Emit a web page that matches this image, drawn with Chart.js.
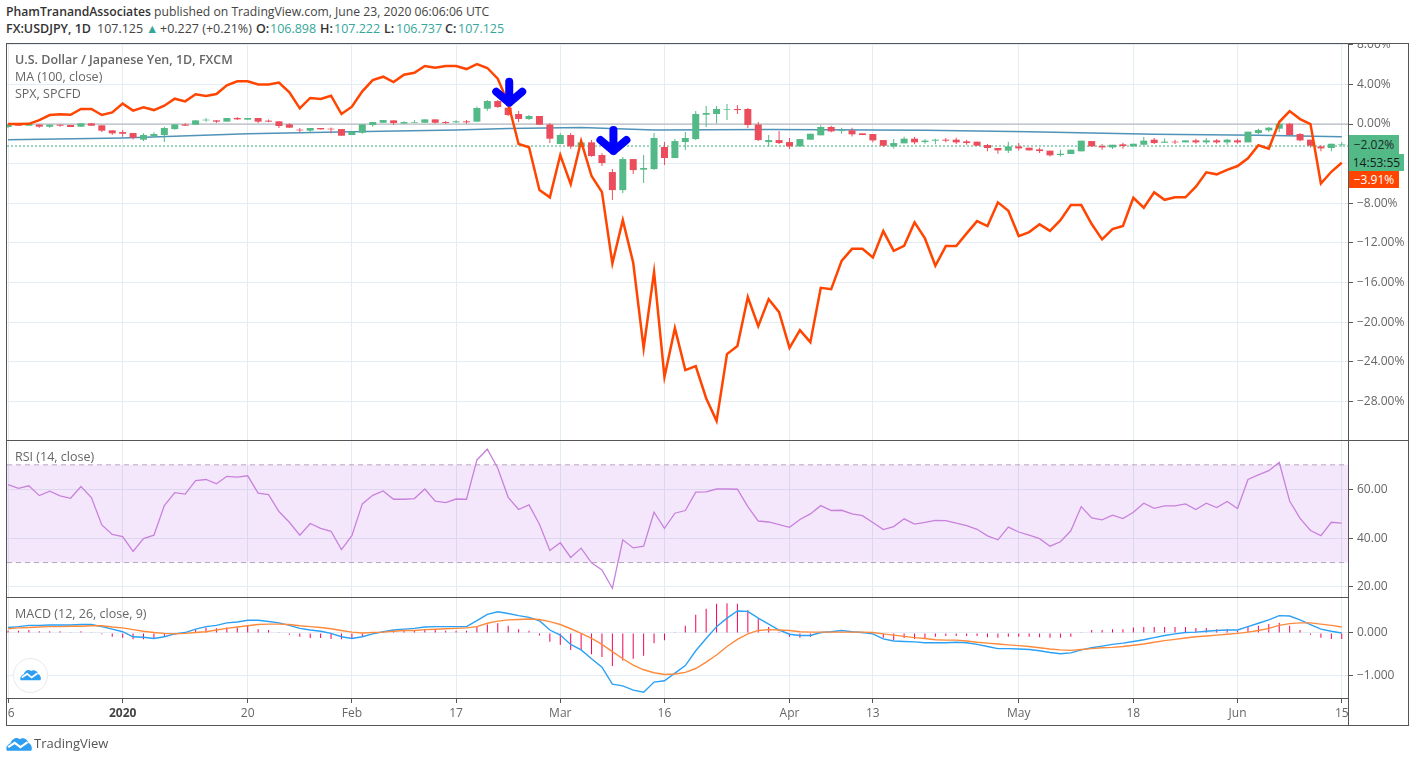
<!DOCTYPE html>
<html>
<head>
<meta charset="utf-8">
<title>USDJPY</title>
<script src="https://cdn.jsdelivr.net/npm/chart.js@4/dist/chart.umd.min.js"></script>
<style>
    html, body { margin: 0; padding: 0; background: #fff; }
    body { width: 1415px; height: 762px; position: relative; overflow: hidden; font-family: "Open Sans", sans-serif; color: #4a4a4a; }
    canvas { position: absolute; left: 7px; }
    .abs { position: absolute; white-space: nowrap; }
    .line { position: absolute; background: #555; }
    .legend { position: absolute; left: 15px; font-size: 12.5px; color: #666; white-space: nowrap; line-height: 16px; }
    .head { position: absolute; left: 6px; font-size: 12.5px; white-space: nowrap; line-height: 16px; color: #444; }
    .head b { color: #333; font-weight: 600; }
    .head span { position: absolute; top: 0; }
    .teal { color: #35a79a; }
    .tag { position: absolute; font-size: 12px; text-align: center; line-height: 17px; }
</style>
</head>
<body>
<div class="head" style="top:4px;font-size:12.2px"><b>PhamTranandAssociates</b> published on TradingView.com, June 23, 2020 06:06:06 UTC</div>
<div class="head" style="top:21px"><b>FX:USDJPY, 1D</b>
    <span style="left:91px">107.125</span>
    <span class="teal" style="left:140px">▲</span>
    <span style="left:154px">+0.227 (+0.21%)</span>
    <span style="left:250px"><b>O:</b></span><span class="teal" style="left:264px">106.898</span>
    <span style="left:314px"><b>H:</b></span><span class="teal" style="left:328px">107.222</span>
    <span style="left:378px"><b>L:</b></span><span class="teal" style="left:390px">106.737</span>
    <span style="left:439px"><b>C:</b></span><span class="teal" style="left:452px">107.125</span>
</div>

<canvas id="priceChart" width="1401" height="396" style="top:44px"></canvas>
<canvas id="rsiChart" width="1401" height="156" style="top:441px"></canvas>
<canvas id="macdChart" width="1401" height="127" style="top:598px"></canvas>

<div class="legend" style="top:52px;font-weight:600">U.S. Dollar / Japanese Yen, 1D, FXCM</div>
<div class="legend" style="top:69px">MA (100, close)</div>
<div class="legend" style="top:86px">SPX, SPCFD</div>
<div class="legend" style="top:449px">RSI (14, close)</div>
<div class="legend" style="top:606px">MACD (12, 26, close, 9)</div>

<!-- frame -->
<div class="line" style="left:6px;top:43px;width:1403px;height:1px"></div>
<div class="line" style="left:6px;top:725px;width:1403px;height:1px"></div>
<div class="line" style="left:6px;top:43px;width:1px;height:683px"></div>
<div class="line" style="left:1408px;top:43px;width:1px;height:683px"></div>
<div class="line" style="left:1348px;top:43px;width:1px;height:683px"></div>
<div class="line" style="left:6px;top:440px;width:1403px;height:1px"></div>
<div class="line" style="left:6px;top:597px;width:1343px;height:1px"></div>
<div class="line" style="left:6px;top:698px;width:1343px;height:1px"></div>

<!-- last value tags -->
<div class="tag" style="left:1349px;top:135px;width:50px;height:19px;line-height:19px;background:#53b987;color:#1c2a24">−2.02%</div>
<div class="tag" style="left:1349px;top:154px;width:55px;height:17px;background:#53b987;color:#13201a">14:53:55</div>
<div class="tag" style="left:1349px;top:171px;width:50px;height:17px;background:#ff4500;color:#fff">−3.91%</div>

<!-- logos -->
<div class="abs" style="left:13px;top:658px;width:33px;height:33px;border-radius:50%;background:#fff;border:1px solid #e8e8e8"></div>
<svg class="abs" style="left:20px;top:668px" width="21" height="13" viewBox="0 0 36 20">
    <path d="M1 20 C-1 14 3 11 6 10 C8 4 14 0 19 4 C22 1 30 3 31 9 C35 11 37 16 35 20 Z" fill="#2e9ef2"/>
    <polyline points="3,15 12,9 20,15 30,8" stroke="#fff" stroke-width="3" fill="none"/>
</svg>
<svg class="abs" style="left:6px;top:736px" width="26" height="15" viewBox="0 0 36 20">
    <path d="M1 20 C-1 14 3 11 6 10 C8 4 14 0 19 4 C22 1 30 3 31 9 C35 11 37 16 35 20 Z" fill="#2e9ef2"/>
    <polyline points="3,15 12,9 20,15 30,8" stroke="#fff" stroke-width="3" fill="none"/>
</svg>
<div class="abs" style="left:34px;top:735px;font-size:13px;line-height:17px;color:#555">TradingView</div>

<script>
// Time axis: bar index of each label
const tickIndex = [0, 11, 23, 33, 43, 53, 63, 75, 83, 97, 108, 118, 128];
const tickLabels = ['  6', '2020', '20', 'Feb', '17', 'Mar', '16', 'Apr', '13', 'May', '18', 'Jun', '15'];

const priceTicks = [8, 4, 0, -4, -8, -12, -16, -20, -24, -28];
const rsiTicks = [60, 40, 20];
const macdTicks = [0, -1];

// USDJPY candles, in percent of the first bar
const opens = [
    -.30, .03, -.17, 0, -.27, -.07, -.10, -.27, .07, -.13,
    -.64, -.81, -.91, -1.58, -1.25, -1.11, -.51, 0, -.07, .37,
    .37, .24, .61, .44, .61, .34, .27, -.03, -.57, -.67,
    -.40, -.47, -.51, -1.11, -.88, -.10, .13, .37, 0, .13,
    .13, .47, .20, .17, .27, .24, 1.55, 2.32, 1.65, 1.01,
    .51, .81, 0, -2.02, -1.11, -2.32, -1.85, -3.13, -4.85, -6.67,
    -3.54, -4.61, -4.55, -2.32, -3.43, -1.82, -1.52, .94, 1.01, 1.45,
    1.52, 1.52, 0, -1.82, -1.62, -1.82, -2.26, -1.58, -1.14, -.30,
    -.71, -.64, -.94, -1.01, -1.62, -2.26, -1.95, -1.48, -1.82, -1.68,
    -1.58, -1.58, -1.75, -1.78, -2.12, -2.42, -2.69, -2.26, -2.39, -2.56,
    -2.69, -3.13, -3.03, -2.76, -1.72, -2.22, -2.36, -2.05, -2.26, -2.09,
    -1.58, -1.89, -1.78, -1.85, -1.65, -1.85, -1.65, -1.85, -1.65, -1.85,
    -.91, -.64, -.47, .03, -1.01, -1.58, -2.26, -2.42, -2.08
];
const closes = [
    0, -.17, .03, -.27, -.07, -.17, -.30, .07, -.17, -.67,
    -.94, -.98, -1.38, -1.11, -1.01, -.40, -.03, -.17, .37, .44,
    .24, .61, .47, .61, .24, .24, -.20, -.37, -.64, -.40,
    -.54, -.54, -1.18, -.77, -.03, .20, .40, .10, .20, .20,
    .47, .13, .10, .27, .17, 1.62, 2.32, 1.72, .91, .51,
    .81, -.07, -1.48, -1.11, -2.26, -1.85, -3.23, -3.94, -6.67, -3.54,
    -4.65, -4.44, -1.41, -3.43, -1.72, -1.41, 1.01, 1.11, 1.52, 1.52,
    1.41, -.10, -1.62, -1.62, -1.92, -2.26, -1.52, -.98, -.30, -.74,
    -.64, -1.04, -1.11, -1.65, -2.19, -1.92, -1.48, -1.85, -1.68, -1.58,
    -1.68, -1.85, -1.92, -2.19, -2.42, -2.66, -2.26, -2.46, -2.66, -2.73,
    -3.16, -3.0, -2.59, -1.68, -2.26, -2.36, -2.09, -2.22, -1.99, -1.68,
    -1.92, -1.78, -1.85, -1.65, -1.85, -1.65, -1.85, -1.58, -1.85, -.77,
    -.61, -.37, .03, -1.11, -1.65, -2.19, -2.46, -1.99, -2.02
];
const highs = [
    0, .03, .03, 0, -.07, 0, -.10, .07, .07, -.13,
    -.64, -.61, -.91, -.94, -.84, -.27, -.03, .07, .37, .61,
    .37, .61, .71, .61, .61, .47, .27, .07, -.40, -.40,
    -.40, -.34, -.51, -.77, -.03, .20, .40, .37, .27, .37,
    .47, .47, .30, .37, .40, 1.78, 2.42, 2.42, 2.0, 1.31,
    .91, .81, .10, -.91, -.91, -1.65, -1.62, -2.96, -4.55, -3.33,
    -3.54, -3.13, -.91, -1.82, -1.52, -.81, 1.31, 1.82, 1.82, 2.02,
    1.92, 1.62, .20, -1.11, -.71, -1.41, -1.52, -.98, -.13, -.17,
    -.37, -.37, -.94, -1.01, -1.62, -1.52, -1.28, -1.31, -1.52, -1.48,
    -1.41, -1.38, -1.58, -1.78, -2.02, -2.42, -1.78, -1.92, -2.39, -2.39,
    -2.69, -2.59, -2.59, -1.68, -1.72, -2.02, -2.09, -1.89, -1.99, -1.31,
    -1.41, -1.45, -1.58, -1.65, -1.48, -1.41, -1.52, -1.48, -1.48, -.77,
    -.47, -.30, .17, .13, -.91, -1.58, -2.15, -1.99, -1.82
];
const lows = [
    -.40, -.17, -.17, -.37, -.37, -.27, -.30, -.27, -.17, -.81,
    -1.08, -1.28, -1.55, -1.72, -1.25, -1.82, -.57, -.17, -.07, .24,
    .10, .24, .40, .44, .10, .17, -.40, -.37, -.84, -.84,
    -.54, -.94, -1.18, -1.11, -.98, -.27, .13, -.07, 0, .13,
    .13, 0, .03, .10, .03, .24, 1.35, 1.62, .80, .20,
    .40, -.07, -1.92, -2.02, -2.49, -2.32, -3.30, -4.24, -7.68, -6.97,
    -5.05, -5.96, -4.65, -4.14, -3.43, -2.63, -1.62, -.30, 0, .40,
    1.01, -.40, -1.72, -2.32, -2.02, -2.53, -2.26, -1.58, -1.14, -.84,
    -.98, -1.25, -1.11, -1.85, -2.32, -2.46, -1.95, -2.05, -1.99, -2.05,
    -1.85, -2.02, -2.09, -2.19, -2.76, -3.0, -2.93, -2.66, -2.66, -2.93,
    -3.27, -3.27, -3.03, -2.76, -2.26, -2.59, -2.53, -2.49, -2.26, -2.09,
    -2.02, -1.89, -2.02, -1.85, -1.99, -2.05, -1.99, -2.09, -1.99, -1.85,
    -1.01, -.81, -.81, -1.14, -1.75, -2.36, -2.76, -2.76, -2.26
];

// SPX compare line, percent
const spx = [
    0, 0, .02, .4, .91, .98, .94, 1.52, 1.52, .91,
    1.18, 2.06, 1.35, 1.68, 1.41, 1.85, 2.56, 2.29, 3.0, 2.83,
    3.03, 3.91, 4.31, 4.31, 4.0, 4.0, 4.18, 3.2, 1.58, 2.63,
    2.53, 2.86, 1.01, 1.75, 3.3, 4.44, 4.78, 4.24, 4.98, 5.18,
    5.86, 5.69, 5.86, 5.86, 5.55, 6.06, 5.66, 4.58, 2.12, -2.02,
    -2.35, -6.67, -7.40, -3.13, -6.06, -1.72, -5.25, -6.87, -14.07, -9.70,
    -14.01, -22.63, -14.92, -25.53, -20.61, -24.85, -24.44, -27.68, -29.97, -23.23,
    -22.42, -17.47, -20.40, -17.68, -18.99, -22.6, -20.81, -22.02, -16.54, -16.67,
    -13.81, -12.6, -12.6, -13.46, -10.81, -12.8, -12.29, -9.93, -11.55, -14.31,
    -12.32, -12.32, -11.04, -9.8, -10.3, -7.91, -8.76, -11.31, -10.91, -10.13,
    -10.78, -9.7, -8.18, -8.18, -10.1, -11.65, -10.61, -10.3, -7.44, -8.45,
    -6.9, -7.65, -7.4, -7.4, -6.33, -4.88, -5.08, -4.62, -4.24, -3.46,
    -2.15, -2.49, .2, 1.31, .5, 0, -6.0, -4.82, -3.91
];

// MA(100): read at the bars where the line bends
const maIndex = [0, 11, 23, 33, 43, 48, 55, 62, 73, 88, 98, 110, 120, 128];
const maValues = [-1.58, -1.4, -.98, -.77, -.6, -.44, -.34, -.61, -.54, -.64, -.77, -1.04, -1.14, -1.28];

const zeroLevel = 0;
const prevCloseLevel = -2.22;

// Hand drawn arrows: bar index and percent of the tip
const arrowIndex = [48.1, 58.1];
const arrowTips = [1.75, -3.13];

const rsi = [
    61.9, 60.4, 61.4, 57.4, 59.2, 57.3, 56.3, 61.1, 56.6, 45.4,
    41.5, 40.6, 34.6, 39.8, 41.2, 53.3, 58.6, 58.0, 63.5, 64.0,
    62.2, 65.3, 65.0, 65.5, 58.4, 57.8, 50.9, 46.5, 41.2, 46.0,
    44.0, 42.8, 35.3, 41.0, 54.0, 57.5, 59.3, 55.9, 55.9, 56.2,
    60.1, 55.1, 54.5, 56.0, 55.9, 72.0, 76.4, 68.6, 56.7, 51.7,
    53.6, 45.7, 34.9, 38.1, 32.1, 35.9, 29.9, 27.0, 19.5, 39.3,
    36.0, 36.7, 50.6, 44.0, 50.2, 51.3, 58.8, 58.9, 60.1, 60.1,
    60.0, 52.9, 47.0, 46.6, 45.5, 44.4, 47.6, 49.9, 53.3, 51.3,
    51.4, 49.9, 49.2, 46.4, 43.5, 44.7, 47.9, 45.7, 46.4, 47.3,
    47.2, 46.1, 45.1, 43.6, 40.9, 39.3, 44.5, 42.5, 41.2, 39.8,
    36.7, 38.5, 43.0, 52.9, 48.3, 47.5, 49.4, 48.0, 50.6, 54.3,
    52.2, 53.2, 53.2, 54.0, 51.7, 54.3, 52.5, 55.0, 52.1, 64.0,
    65.9, 67.6, 71.0, 55.2, 48.1, 43.1, 41.0, 46.5, 46.1
];
const rsiUpper = 70;
const rsiLower = 30;

const macd = [
    .13, .15, .18, .18, .19, .19, .19, .20, .20, .15,
    .09, .03, -.09, -.10, -.13, -.09, -.02, .01, .09, .15,
    .18, .24, .26, .30, .30, .27, .24, .18, .11, .07,
    .04, -.01, -.09, -.13, -.09, -.02, .03, .07, .09, .11,
    .14, .15, .15, .15, .15, .29, .44, .50, .46, .41,
    .37, .29, .07, -.05, -.27, -.40, -.61, -.81, -1.21, -1.25,
    -1.35, -1.40, -1.16, -1.13, -.95, -.77, -.42, -.13, .15, .35,
    .52, .51, .35, .21, .07, -.03, -.06, -.06, .01, .03,
    .06, .03, .01, -.02, -.14, -.19, -.20, -.21, -.23, -.23,
    -.23, -.22, -.23, -.27, -.32, -.37, -.37, -.38, -.39, -.42,
    -.46, -.49, -.47, -.40, -.35, -.31, -.27, -.24, -.20, -.16,
    -.11, -.06, -.02, .01, .02, .04, .06, .07, .07, .15,
    .23, .31, .41, .40, .31, .20, .09, .04, 0
];
const signal = [
    .10, .12, .13, .14, .15, .15, .16, .16, .17, .17,
    .14, .12, .08, .04, .01, -.01, -.02, -.01, .01, .03,
    .07, .11, .14, .17, .20, .21, .21, .20, .17, .15,
    .13, .10, .06, .02, 0, .01, .02, .04, .06, .06,
    .08, .09, .10, .11, .12, .15, .23, .28, .31, .32,
    .33, .32, .27, .20, .10, -.01, -.13, -.27, -.44, -.61,
    -.76, -.87, -.94, -.98, -.97, -.93, -.84, -.69, -.52, -.32,
    -.15, -.02, .06, .08, .07, .06, .03, .02, .02, .02,
    .02, .02, .02, .01, -.02, -.05, -.08, -.11, -.13, -.16,
    -.17, -.17, -.19, -.22, -.24, -.26, -.28, -.30, -.32, -.35,
    -.38, -.40, -.41, -.39, -.37, -.35, -.34, -.32, -.29, -.26,
    -.22, -.18, -.15, -.12, -.09, -.07, -.05, -.03, -.01, .02,
    .06, .11, .18, .22, .24, .24, .21, .18, .14
];
const histogram = [
    .05, .05, .07, .04, .04, .04, .02, .04, .02, -.03,
    -.09, -.11, -.15, -.15, -.13, -.09, -.04, .02, .07, .13,
    .11, .13, .13, .18, .09, .07, .02, -.04, -.09, -.12,
    -.12, -.14, -.15, -.14, -.09, -.01, .03, .06, .07, .07,
    .09, .08, .05, .05, .05, .15, .20, .23, .17, .09,
    .05, -.06, -.21, -.28, -.40, -.40, -.50, -.57, -.78, -.65,
    -.61, -.54, -.24, -.17, .02, .17, .43, .57, .69, .70,
    .69, .54, .33, .14, .03, -.09, -.11, -.09, -.02, .01,
    .03, .04, -.02, -.02, -.11, -.17, -.12, -.14, -.12, -.09,
    -.07, -.07, -.07, -.07, -.10, -.11, -.09, -.09, -.09, -.10,
    -.11, -.11, -.09, .02, .07, .07, .09, .09, .13, .14,
    .14, .14, .14, .14, .12, .12, .09, .09, .05, .14,
    .17, .21, .24, .17, .07, -.04, -.11, -.14, -.14
];

const GREEN = '#53b987';
const RED = '#eb4d5c';
const GRID = '#e4edf3';
const TICK_TEXT = '#666';
const AXIS_DARK = '#555';
const FONT = '"Open Sans", sans-serif';

// pixel mapping of the time axis: bar 0 sits just inside the frame
const xMin = -0.1;
const xMax = 128.6;

const pairs = (vals) => vals.map((v, i) => ({ x: i, y: v }));
const level = (v) => [{ x: xMin, y: v }, { x: xMax, y: v }];
const minusSign = (s) => s.replace('-', '\u2212');

// Shared x scale; only the bottom pane shows labels
function xScale(showLabels) {
    return {
        type: 'linear',
        offset: false, // bar charts default to true, which would shift every tick
        min: xMin,
        max: xMax,
        afterBuildTicks: (scale) => { scale.ticks = tickIndex.map((v) => ({ value: v })); },
        afterFit: (scale) => {
            scale.paddingLeft = 0;
            scale.paddingRight = 0;
            scale.height = showLabels ? 27 : 0;
        },
        border: { display: false },
        grid: { offset: false, color: GRID, drawTicks: showLabels, tickLength: 5, tickColor: AXIS_DARK },
        ticks: {
            display: showLabels,
            autoSkip: false,
            maxRotation: 0,
            padding: 3,
            color: (c) => (c.tick && c.tick.value === 11 ? '#444' : TICK_TEXT),
            font: (c) => ({ family: FONT, size: 12, weight: c.tick && c.tick.value === 11 ? '700' : '400' }),
            callback: (v) => tickLabels[tickIndex.indexOf(v)]
        }
    };
}

// Shared right hand value scale
function yScale(min, max, values, format) {
    return {
        position: 'right',
        min: min,
        max: max,
        afterBuildTicks: (scale) => { scale.ticks = values.map((v) => ({ value: v })); },
        afterFit: (scale) => {
            scale.width = 60;
            scale.paddingTop = 0;
            scale.paddingBottom = 0;
        },
        border: { display: false },
        grid: { color: GRID, tickLength: 5, tickColor: AXIS_DARK },
        ticks: {
            autoSkip: false,
            padding: 4,
            color: TICK_TEXT,
            font: { family: FONT, size: 12 },
            callback: format
        }
    };
}

function commonOptions(showLabels, min, max, values, format) {
    return {
        responsive: false,
        animation: false,
        devicePixelRatio: 1,
        layout: { padding: 0 },
        elements: { point: { radius: 0 }, line: { tension: 0 } },
        plugins: { legend: { display: false }, tooltip: { enabled: false } },
        scales: { x: xScale(showLabels), y: yScale(min, max, values, format) }
    };
}

// The two blue arrows are marked on the price pane
const arrowPlugin = {
    id: 'arrows',
    afterDatasetsDraw(chart) {
        const { ctx, scales } = chart;
        ctx.save();
        ctx.strokeStyle = '#0000ff';
        ctx.lineWidth = 8;
        ctx.lineCap = 'round';
        ctx.lineJoin = 'round';
        arrowIndex.forEach((idx, n) => {
            const x = scales.x.getPixelForValue(idx);
            const y = scales.y.getPixelForValue(arrowTips[n]);
            ctx.beginPath();
            ctx.moveTo(x, y - 4);
            ctx.lineTo(x, y - 25);
            ctx.moveTo(x - 13, y - 15);
            ctx.lineTo(x, y - 4);
            ctx.lineTo(x + 13, y - 15);
            ctx.stroke();
        });
        ctx.restore();
    }
};

const barColors = opens.map((o, i) => (closes[i] >= o ? GREEN : RED));

new Chart(document.getElementById('priceChart'), {
    type: 'bar',
    data: {
        datasets: [
            { type: 'line', data: level(zeroLevel), borderColor: '#a9abb3', borderWidth: 1, order: 6 },
            { type: 'line', data: level(prevCloseLevel), borderColor: '#3fae7a', borderWidth: 1, borderDash: [2, 2], order: 5 },
            { type: 'line', data: maIndex.map((v, i) => ({ x: v, y: maValues[i] })), borderColor: '#4f93b8', borderWidth: 1.5, order: 4 },
            {
                data: lows.map((v, i) => ({ x: i, y: [v, highs[i]] })),
                backgroundColor: barColors,
                barThickness: 1,
                inflateAmount: 0,
                grouped: false,
                order: 3
            },
            {
                data: opens.map((v, i) => ({ x: i, y: [v, closes[i]] })),
                backgroundColor: barColors,
                barThickness: 7,
                inflateAmount: 0,
                grouped: false,
                order: 2
            },
            { type: 'line', data: pairs(spx), borderColor: '#ff4500', borderWidth: 2.5, order: 1 }
        ]
    },
    options: commonOptions(false, -31.9, 8.08, priceTicks, (v) => (v === -4 ? '' : minusSign(v.toFixed(2)) + '%')),
    plugins: [arrowPlugin]
});

new Chart(document.getElementById('rsiChart'), {
    type: 'line',
    data: {
        datasets: [
            {
                data: level(rsiUpper),
                borderColor: '#b9a6c0',
                borderWidth: 1,
                borderDash: [5, 4],
                fill: '+1',
                backgroundColor: 'rgba(156, 39, 230, 0.11)',
                order: 3
            },
            { data: level(rsiLower), borderColor: '#b9a6c0', borderWidth: 1, borderDash: [5, 4], order: 2 },
            { data: pairs(rsi), borderColor: '#c882dc', borderWidth: 1.3, order: 1 }
        ]
    },
    options: commonOptions(false, 15.9, 79.75, rsiTicks, (v) => v.toFixed(2))
});

new Chart(document.getElementById('macdChart'), {
    type: 'bar',
    data: {
        datasets: [
            { data: pairs(histogram), backgroundColor: '#f50057', barThickness: 1, inflateAmount: 0, order: 3 },
            { type: 'line', data: pairs(macd), borderColor: '#2ba0f5', borderWidth: 1.4, order: 2 },
            { type: 'line', data: pairs(signal), borderColor: '#ff8a3c', borderWidth: 1.4, order: 1 }
        ]
    },
    options: commonOptions(true, -1.537, 0.827, macdTicks, (v) => minusSign(v.toFixed(3)))
});
</script>
</body>
</html>
